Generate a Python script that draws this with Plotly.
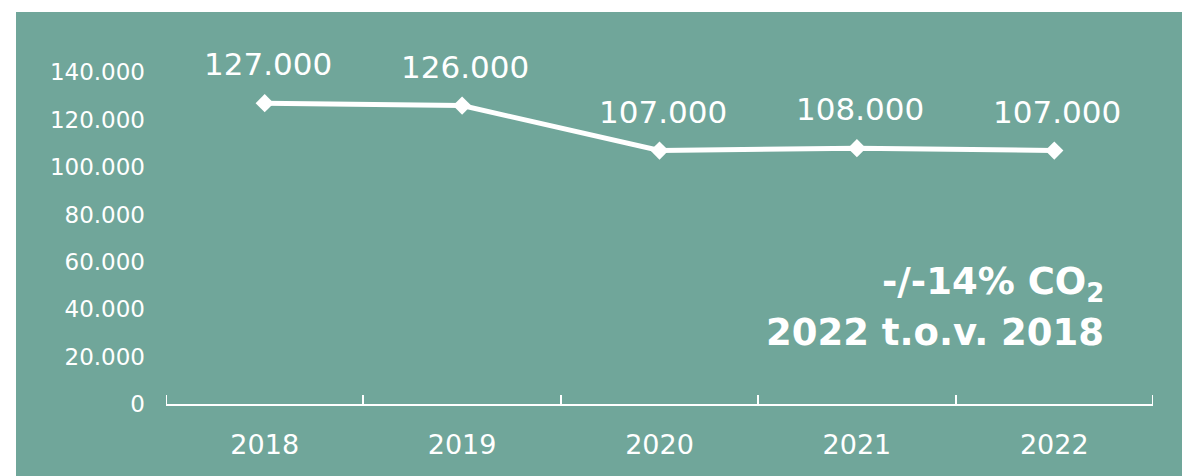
import plotly.graph_objects as go

years = ["2018", "2019", "2020", "2021", "2022"]
emissions = [127000, 126000, 107000, 108000, 107000]
point_labels = ["127.000", "126.000", "107.000", "108.000", "107.000"]
y_tickvals = [0, 20000, 40000, 60000, 80000, 100000, 120000, 140000]
y_ticktext = ["0", "20.000", "40.000", "60.000", "80.000", "100.000", "120.000", "140.000"]
note_line1 = "-/-14% CO<sub>2</sub>"
note_line2 = "2022 t.o.v. 2018"

TEAL = "#70A69A"
FONT = "DejaVu Sans"
W, H = 1190, 476
L, R, T, B = 166, 37, 25, 72
PH = H - T - B
PW = W - L - R

fig = go.Figure()
fig.add_trace(go.Scatter(
    x=years, y=emissions,
    mode="lines+markers",
    line=dict(color="white", width=5),
    marker=dict(symbol="diamond", size=14, color="white"),
    hoverinfo="skip",
    cliponaxis=False,
))

for i, (val, lab) in enumerate(zip(emissions, point_labels)):
    fig.add_annotation(xref="x", yref="y", x=i, y=val, text=lab, showarrow=False,
                       xanchor="center", yanchor="bottom", yshift=19, xshift=3,
                       font=dict(family=FONT, size=31, color="white"))

fig.add_shape(type="rect", xref="paper", yref="paper",
              x0=(16 - L) / PW, x1=(1182 - L) / PW,
              y0=-B / PH, y1=(H - B - 12) / PH,
              fillcolor=TEAL, line=dict(width=0), layer="below")

# end ticks at the outer category boundaries
for xb in (-0.5, len(years) - 0.5):
    fig.add_shape(type="line", xref="x", yref="paper",
                  x0=xb, x1=xb, y0=0, y1=9 / PH,
                  line=dict(color="white", width=2))

fig.add_annotation(xref="paper", yref="paper",
                   x=(1106 - L) / PW, y=(H - B - 284) / PH,
                   xanchor="right", yanchor="middle", showarrow=False,
                   text="<b>" + note_line1 + "</b>",
                   font=dict(family=FONT, size=37, color="white"))
fig.add_annotation(xref="paper", yref="paper",
                   x=(1106 - L) / PW, y=(H - B - 332) / PH,
                   xanchor="right", yanchor="middle", showarrow=False,
                   text="<b>" + note_line2 + "</b>",
                   font=dict(family=FONT, size=37, color="white"))

fig.update_layout(
    width=W, height=H,
    margin=dict(l=L, r=R, t=T, b=B),
    paper_bgcolor="white",
    plot_bgcolor="rgba(0,0,0,0)",
    showlegend=False,
    xaxis=dict(
        type="category", range=[-0.5, 4.5],
        showline=True, linecolor="white", linewidth=2,
        ticks="inside", tickson="boundaries", ticklen=9, tickwidth=2, tickcolor="white",
        showgrid=False, zeroline=False,
        tickfont=dict(family=FONT, size=27, color="white"),
        ticklabelstandoff=16,
    ),
    yaxis=dict(
        range=[0, 160000],
        tickvals=y_tickvals, ticktext=y_ticktext,
        showline=False, showgrid=False, zeroline=False, ticks="",
        tickfont=dict(family=FONT, size=23, color="white"),
        ticklabelstandoff=20,
    ),
)

fig.write_html("out.html")
